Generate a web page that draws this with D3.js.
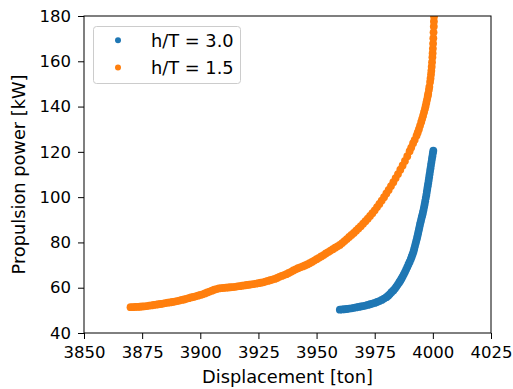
<!DOCTYPE html>
<html>
<head>
<meta charset="utf-8">
<script src="https://cdn.jsdelivr.net/npm/d3@7"></script>
<style>
  html, body { margin: 0; padding: 0; background: #fff; }
  svg { display: block; }
  text { font-family: "DejaVu Sans", sans-serif; fill: #000; }
</style>
</head>
<body>
<svg id="chart" width="513" height="389"></svg>
<script>
// ---- data ----
const seriesNames = ["h/T = 3.0", "h/T = 1.5"];
const seriesColors = ["#1f77b4", "#ff7f0e"];

const blueDisp = [3960,3961,3962,3963,3964,3965,3966,3967,3968,3969,3970,3971,3972,3973,3974,3975,3976,3977,3978,3979,3980,3980.8,3981.5,3982.2,3983,3983.7,3984.3,3984.9,3985.5,3986,3986.5,3987,3987.5,3988,3988.5,3989,3989.5,3990,3990.5,3990.9,3991.3,3991.7,3992,3992.3,3992.6,3992.9,3993.2,3993.45,3993.7,3993.95,3994.2,3994.45,3994.7,3994.95,3995.2,3995.45,3995.7,3995.95,3996.2,3996.45,3996.7,3996.95,3997.2,3997.4,3997.6,3997.8,3998.0,3998.2,3998.4,3998.6,3998.8,3999.0,3999.2,3999.4,3999.6,3999.8,4000.0,4000.2];
const bluePower = [50.3,50.4,50.5,50.6,50.8,50.9,51.1,51.3,51.5,51.7,51.9,52.1,52.4,52.7,53.0,53.3,53.7,54.1,54.6,55.2,55.8,56.5,57.2,58.0,58.8,59.6,60.5,61.4,62.3,63.1,64.0,64.9,65.9,66.9,68.0,69.1,70.3,71.4,72.6,73.7,74.8,76.0,77.2,78.4,79.6,80.8,82.0,83.1,84.3,85.4,86.6,87.8,88.9,90.0,91.0,92.0,93.0,94.2,95.5,96.8,98.2,99.6,101.0,102.3,103.6,104.8,106.1,107.4,108.8,110.1,111.5,112.8,114.2,115.5,116.8,118.1,119.4,120.5];

const orangeDisp = [3870,3871,3872,3873,3874,3875,3876,3877,3878,3879,3880,3881,3882,3883,3884,3885,3886,3887,3888,3889,3890,3891,3892,3893,3894,3895,3896,3897,3898,3899,3900,3901,3902,3903,3904,3905,3906,3907,3908,3909,3910,3911,3912,3913,3914,3915,3916,3917,3918,3919,3920,3921,3922,3923,3924,3925,3926,3927,3928,3929,3930,3931,3932,3933,3934,3935,3936,3937,3938,3939,3940,3941,3942,3943,3944,3945,3946,3947,3948,3949,3950,3951,3952,3953,3954,3955,3956,3957,3958,3959,3960,3961,3962,3963,3964,3965,3966,3967,3968,3969,3970,3971,3972,3973,3974,3975,3976,3977,3978,3979,3980,3981,3982,3983,3984,3985,3986,3987,3988,3989,3990,3990.7,3991.5,3992.2,3993,3993.5,3994,3994.5,3995,3995.4,3995.8,3996.2,3996.6,3996.9,3997.2,3997.5,3997.8,3998.0,3998.3,3998.5,3998.8,3999.0,3999.2,3999.35,3999.5,3999.65,3999.8,3999.9,4000.0,4000.1,4000.2,4000.3,4000.4,4000.45,4000.5,4000.55];
const orangePower = [51.4,51.4,51.5,51.5,51.6,51.7,51.8,51.9,52.1,52.2,52.4,52.5,52.7,52.8,53.0,53.2,53.4,53.5,53.7,53.9,54.1,54.3,54.6,54.8,55.1,55.4,55.7,55.9,56.2,56.5,56.8,57.1,57.5,57.9,58.3,58.7,59.1,59.4,59.7,59.8,59.9,60.0,60.1,60.2,60.3,60.4,60.6,60.7,60.9,61.0,61.2,61.3,61.5,61.6,61.8,62.0,62.2,62.4,62.7,63.0,63.3,63.6,63.9,64.3,64.8,65.2,65.6,66.0,66.5,67.0,67.6,68.1,68.6,69.0,69.4,69.8,70.3,70.8,71.4,72.0,72.6,73.2,73.8,74.4,75.1,75.7,76.4,77.0,77.7,78.3,78.9,79.7,80.6,81.5,82.4,83.3,84.2,85.2,86.2,87.2,88.3,89.4,90.5,91.7,92.9,94.2,95.6,97.0,98.5,100.0,101.6,103.2,104.9,106.6,108.4,110.2,112.1,114.0,116.0,118.1,120.3,121.9,123.8,125.3,127.2,128.6,130.0,131.6,133.2,134.6,136.0,137.5,139.0,140.3,141.7,143.1,144.6,145.7,147.4,148.7,150.8,152.4,154.2,155.8,157.6,159.6,161.8,163.6,165.6,167.8,170.2,172.8,175.4,177.6,179.8,181.5];

const xTicks = [3850,3875,3900,3925,3950,3975,4000,4025];
const yTicks = [40,60,80,100,120,140,160,180];
const xLabel = "Displacement [ton]";
const yLabel = "Propulsion power [kW]";

// ---- layout ----
const svg = d3.select("#chart");
const L = 84, R = 491, T = 16, B = 333;
const x = d3.scaleLinear().domain([3850, 4025]).range([L, R]);
const y = d3.scaleLinear().domain([40, 180]).range([B, T]);
const fsTick = 16.5, fsLabel = 17.8;

svg.append("defs").append("clipPath").attr("id", "clip")
  .append("rect").attr("x", L).attr("y", T).attr("width", R - L).attr("height", B - T);

const series = [
  {name: seriesNames[0], color: seriesColors[0], pts: blueDisp.map((d, i) => [d, bluePower[i]])},
  {name: seriesNames[1], color: seriesColors[1], pts: orangeDisp.map((d, i) => [d, orangePower[i]])}
];

const plot = svg.append("g").attr("clip-path", "url(#clip)");
series.forEach(s => {
  plot.append("g").selectAll("circle").data(s.pts).join("circle")
    .attr("cx", d => x(d[0])).attr("cy", d => y(d[1])).attr("r", 3.9)
    .attr("fill", s.color);
});

// axes
const xAxis = svg.append("g").attr("transform", `translate(0,${B})`)
  .call(d3.axisBottom(x).tickValues(xTicks).tickFormat(d3.format("d")).tickSize(6).tickPadding(7.5).tickSizeOuter(0));
const yAxis = svg.append("g").attr("transform", `translate(${L},0)`)
  .call(d3.axisLeft(y).tickValues(yTicks).tickFormat(d3.format("d")).tickSize(6).tickPadding(7).tickSizeOuter(0));
[xAxis, yAxis].forEach(a => {
  a.select(".domain").remove();
  a.selectAll("line").attr("stroke", "#000").attr("stroke-width", 1);
  a.selectAll("text").attr("font-size", fsTick).attr("font-family", "DejaVu Sans, sans-serif").attr("fill", "#000");
});

// spines
svg.append("rect").attr("x", L).attr("y", T).attr("width", R - L).attr("height", B - T)
  .attr("fill", "none").attr("stroke", "#000").attr("stroke-width", 1);

// axis labels
svg.append("text").attr("x", (L + R) / 2).attr("y", 383).attr("text-anchor", "middle")
  .attr("font-size", fsLabel).text(xLabel);
svg.append("text").attr("transform", `translate(25,${(T + B) / 2}) rotate(-90)`)
  .attr("text-anchor", "middle").attr("font-size", fsLabel).text(yLabel);

// legend
const lg = svg.append("g");
lg.append("rect").attr("x", 93.5).attr("y", 26.5).attr("width", 147).attr("height", 57).attr("rx", 3)
  .attr("fill", "#fff").attr("fill-opacity", 0.8).attr("stroke", "#ccc").attr("stroke-width", 1);
series.forEach((s, i) => {
  const cy = 40.3 + i * 27.2;
  lg.append("circle").attr("cx", 118).attr("cy", cy).attr("r", 3).attr("fill", s.color);
  lg.append("text").attr("x", 151).attr("y", cy + 6.2).attr("font-size", fsLabel).text(s.name);
});
</script>
</body>
</html>
